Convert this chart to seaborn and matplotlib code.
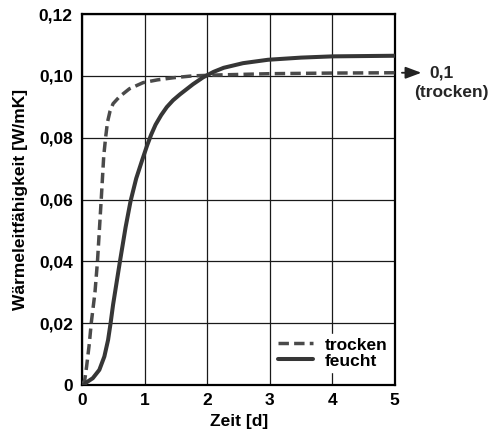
import matplotlib
matplotlib.use("Agg")
import matplotlib.pyplot as plt
import seaborn as sns
import pandas as pd
from matplotlib.ticker import FuncFormatter

# Zeit [d] und Wärmeleitfähigkeit [W/mK]
t_trocken = [0, 0.036, 0.066, 0.11, 0.14, 0.20, 0.24, 0.27, 0.30, 0.34, 0.37,
             0.40, 0.44, 0.49, 0.59, 0.75, 0.97, 1.20, 1.46, 1.77, 2.2, 2.6,
             3.0, 4.0, 5.0]
k_trocken = [0, 0.0016, 0.006, 0.0135, 0.020, 0.030, 0.040, 0.050, 0.060, 0.074,
             0.080, 0.0850, 0.0885, 0.0910, 0.0932, 0.0958, 0.0978, 0.0987,
             0.0994, 0.1000, 0.1003, 0.1005, 0.1007, 0.1009, 0.1010]

t_feucht = [0, 0.03, 0.06, 0.165, 0.27, 0.35, 0.41, 0.45, 0.49, 0.545, 0.60,
            0.69, 0.77, 0.86, 0.955, 1.035, 1.10, 1.17, 1.26, 1.35, 1.45,
            1.56, 1.77, 1.93, 2.1, 2.26, 2.57, 2.97, 3.5, 4.0, 5.0]
k_feucht = [0, 0.0, 0.0008, 0.0022, 0.0049, 0.0092, 0.0146, 0.020, 0.026,
            0.033, 0.040, 0.051, 0.0595, 0.0668, 0.0727, 0.0775, 0.0810,
            0.0842, 0.0873, 0.0899, 0.0921, 0.0940, 0.0973, 0.0995, 0.1013,
            0.1026, 0.1041, 0.1052, 0.1059, 0.1063, 0.1065]

x_ticks = [0, 1, 2, 3, 4, 5]
y_ticks = [0, 0.02, 0.04, 0.06, 0.08, 0.10, 0.12]

df_trocken = pd.DataFrame({"Zeit": t_trocken, "k": k_trocken})
df_feucht = pd.DataFrame({"Zeit": t_feucht, "k": k_feucht})

sns.set_theme(style="white")
plt.rcParams["font.family"] = ["Liberation Sans", "DejaVu Sans"]
plt.rcParams["font.weight"] = "bold"

fig = plt.figure(figsize=(4.91, 4.38), dpi=100)
ax = fig.add_axes([0.168, 0.121, 0.636, 0.847])

sns.lineplot(data=df_trocken, x="Zeit", y="k", ax=ax, color="#4a4a4a",
             linewidth=2.5, label="trocken", zorder=3)
sns.lineplot(data=df_feucht, x="Zeit", y="k", ax=ax, color="#363636",
             linewidth=2.9, label="feucht", zorder=3)
ax.lines[0].set_dashes([3.0, 1.5])
for ln in ax.lines:
    ln.set_solid_joinstyle("round")
    ln.set_dash_joinstyle("round")

ax.set_xlim(0, 5)
ax.set_ylim(0, 0.12)
ax.set_xticks(x_ticks)
ax.set_yticks(y_ticks)
ax.yaxis.set_major_formatter(FuncFormatter(
    lambda v, _: "0" if abs(v) < 1e-9 else f"{v:.2f}".replace(".", ",")))
ax.xaxis.set_major_formatter(FuncFormatter(lambda v, _: f"{v:.0f}"))

ax.grid(True, color="#1a1a1a", linewidth=0.9, zorder=1)
for s in ax.spines.values():
    s.set_color("black")
    s.set_linewidth(1.6)

ax.tick_params(axis="both", length=0, labelsize=12.5, colors="black")
ax.tick_params(axis="y", pad=7)
ax.tick_params(axis="x", pad=6)
for lbl in ax.get_xticklabels() + ax.get_yticklabels():
    lbl.set_fontweight("bold")

ax.set_xlabel("Zeit [d]", fontsize=12.5, fontweight="bold", color="black", labelpad=4)
ax.set_ylabel("Wärmeleitfähigkeit [W/mK]", fontsize=12.5, fontweight="bold",
              color="black", labelpad=8)

leg = ax.legend(loc="lower right", frameon=True, fontsize=12.5, handlelength=2.0,
                labelspacing=0.05, handletextpad=0.7, borderpad=0.2,
                borderaxespad=0.0, bbox_to_anchor=(0.989, 0.035))
frame = leg.get_frame()
frame.set_edgecolor("white")
frame.set_facecolor("white")
frame.set_alpha(1.0)
frame.set_boxstyle("square", pad=0)
for txt in leg.get_texts():
    txt.set_fontweight("bold")
    txt.set_color("black")

# Grenzwert der trockenen Probe
ax.annotate("", xy=(5.47, k_trocken[-1]), xytext=(5.07, k_trocken[-1]),
            arrowprops=dict(arrowstyle="-|>,head_length=0.8,head_width=0.3",
                            color="#222222", linewidth=1.3),
            annotation_clip=False)
ax.text(5.55, k_trocken[-1], "0,1", fontsize=12.5, fontweight="bold",
        ha="left", va="center", clip_on=False)
ax.text(5.9, 0.0945, "(trocken)", fontsize=12.5, fontweight="bold",
        ha="center", va="center", clip_on=False)

fig.savefig("out.png", dpi=100, facecolor="white")
